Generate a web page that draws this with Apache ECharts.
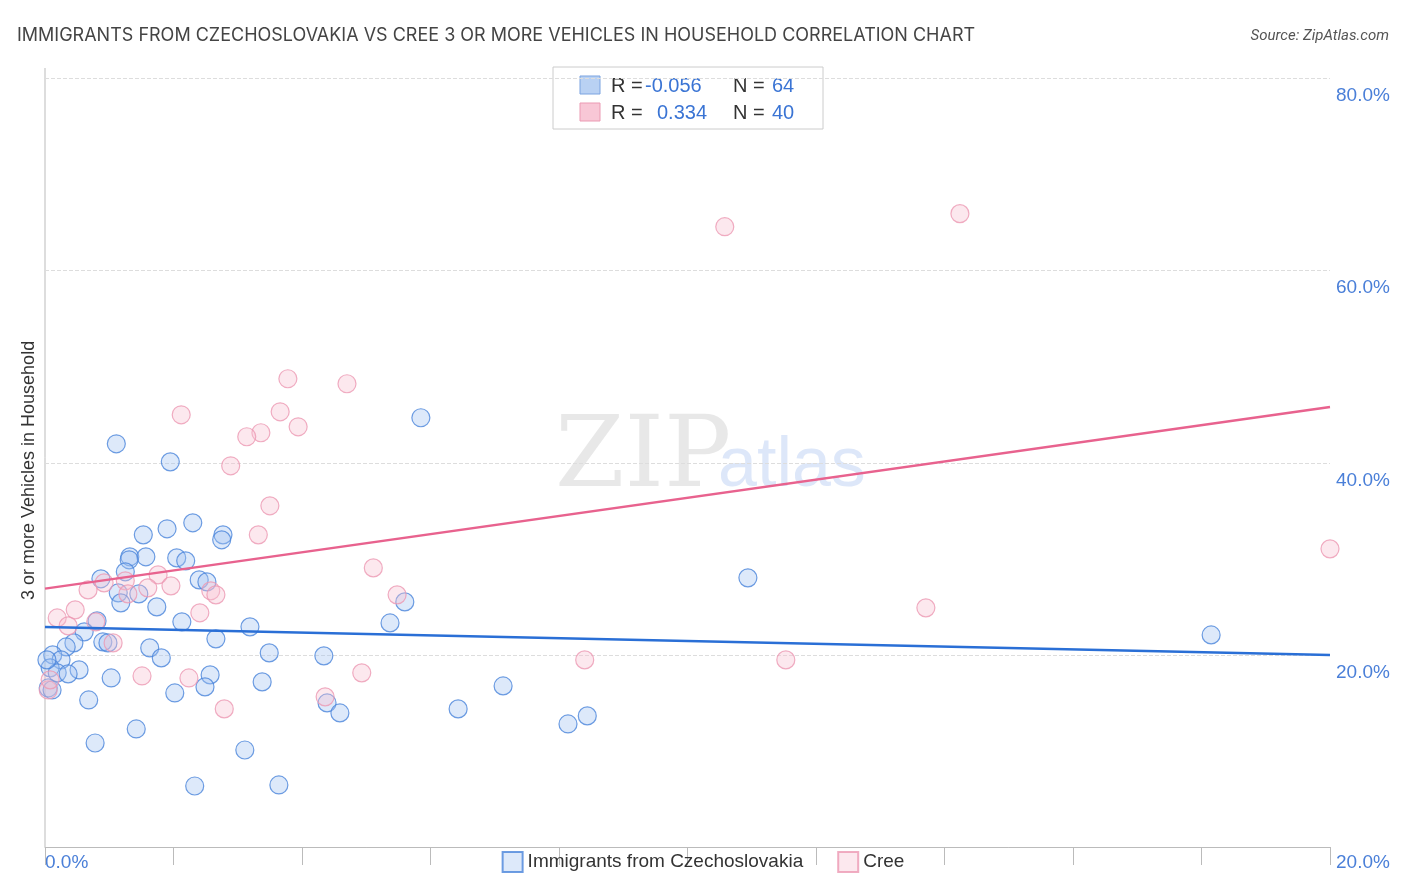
<!DOCTYPE html><html><head><meta charset="utf-8"><script src="https://cdn.jsdelivr.net/npm/echarts@6/dist/echarts.min.js"></script>
<style>body{margin:0}#c{width:1406px;height:892px}</style></head><body><div id="c"></div><script>
const bluePx=[[116,444],[170,462],[421,418],[193,523],[167,529],[143,535],[223,535],[222,540],[130,557],[146,557],[129,560],[177,558],[186,561],[125,572],[101,579],[199,580],[207,582],[118,593],[139,594],[121,603],[157,607],[405,602],[748,578],[97,621],[182,622],[84,632],[250,627],[390,623],[1211,635],[74,643],[103,642],[108,643],[150,648],[216,639],[66,647],[53,655],[61,660],[161,658],[269,653],[324,656],[50,668],[79,670],[57,673],[68,674],[210,675],[111,678],[262,682],[205,687],[175,693],[503,686],[89,700],[327,703],[340,713],[458,709],[587,716],[568,724],[136,729],[95,743],[245,750],[195,786],[279,785],[48,688],[52,690],[47,660]];
const pinkPx=[[725,227],[960,214],[288,379],[347,384],[181,415],[280,412],[298,427],[261,433],[247,437],[231,466],[270,506],[258,535],[373,568],[1330,549],[158,575],[104,583],[125,581],[88,590],[148,588],[171,586],[211,591],[216,595],[200,613],[397,595],[926,608],[75,610],[57,618],[68,626],[113,643],[585,660],[786,660],[362,673],[142,676],[189,678],[325,697],[224,709],[48,690],[50,680],[96,622],[128,594]];
// values (converted from reading positions to data units)
const toV=p=>[+((p[0]-45)/64.25).toFixed(2),+((847-p[1])/9.6).toFixed(2)];
const blueData=bluePx.map(toV), pinkData=pinkPx.map(toV);
const blueTrend=[[0,22.9],[20,20.0]], pinkTrend=[[0,26.9],[20,45.8]];
const yTicks=[20,40,60,80];
const c=echarts.init(document.getElementById('c'));
c.setOption({
 title:[{text:'IMMIGRANTS FROM CZECHOSLOVAKIA VS CREE 3 OR MORE VEHICLES IN HOUSEHOLD CORRELATION CHART',left:12,top:22,textStyle:{fontSize:18,fontWeight:'normal',color:'#444',fontFamily:'Inter'}},
 {text:'Source: ZipAtlas.com',right:12,top:24,textStyle:{fontSize:15,fontWeight:'normal',fontStyle:'italic',color:'#555',fontFamily:'Roboto'}}],
 grid:{left:45,right:76,top:69,bottom:45},
 xAxis:{type:'value',min:0,max:20,interval:2,axisLine:{lineStyle:{color:'#bbb'}},axisTick:{show:true,length:18,inside:false,lineStyle:{color:'#bbb'}},splitLine:{show:false},
  axisLabel:{show:false}},
 yAxis:{type:'value',min:0,max:81,position:'right',interval:20,axisLine:{show:false},axisTick:{show:false},
  splitLine:{showMaxLine:false,showMinLine:false,lineStyle:{type:'dashed',color:'#ddd'}},axisLabel:{fontSize:19,color:'#4a7fd8',formatter:v=>yTicks.includes(v)?v.toFixed(1)+'%':'',margin:6,verticalAlign:'top',padding:[8,0,0,0]}},
 legend:{bottom:14,left:'center',itemWidth:20,itemHeight:20,itemGap:34,textStyle:{fontSize:19,color:'#333'},data:[{name:'Immigrants from Czechoslovakia',icon:'rect'},{name:'Cree',icon:'rect'}]},
 graphic:[{type:'line',shape:{x1:45,y1:68,x2:45,y2:847},style:{stroke:'#bbb'}},
  {type:'text',x:45,y:853,style:{text:'0.0%',fontSize:19,fill:'#4a7fd8'}},
  {type:'text',x:1336,y:853,style:{text:'20.0%',fontSize:19,fill:'#4a7fd8'}},
  {type:'rect',shape:{x:553,y:67,width:270,height:62},style:{fill:'#fff',stroke:'#ccc'}},
  {type:'rect',shape:{x:580,y:76,width:20,height:18},style:{fill:'#b9d1f3',stroke:'#7aa3e0'}},
  {type:'rect',shape:{x:580,y:103,width:20,height:18},style:{fill:'#f8c7d6',stroke:'#eb9ab3'}},
  {type:'text',x:611,y:76,style:{text:'R = ',fontSize:20,fill:'#333'}},
  {type:'text',x:645,y:76,style:{text:'-0.056',fontSize:20,fill:'#3a74d4'}},
  {type:'text',x:733,y:76,style:{text:'N = ',fontSize:20,fill:'#333'}},
  {type:'text',x:772,y:76,style:{text:'64',fontSize:20,fill:'#3a74d4'}},
  {type:'text',x:611,y:103,style:{text:'R = ',fontSize:20,fill:'#333'}},
  {type:'text',x:657,y:103,style:{text:'0.334',fontSize:20,fill:'#3a74d4'}},
  {type:'text',x:733,y:103,style:{text:'N = ',fontSize:20,fill:'#333'}},
  {type:'text',x:772,y:103,style:{text:'40',fontSize:20,fill:'#3a74d4'}},
  {type:'text',x:555,y:410,style:{text:'ZIP',fontSize:100,fill:'rgba(180,180,180,0.3)',fontFamily:'DejaVu Serif'}},
  {type:'text',x:718,y:432,style:{text:'atlas',fontSize:70,fill:'rgba(120,160,230,0.25)'}},
  {type:'text',x:20,y:600,rotation:Math.PI/2,style:{text:'3 or more Vehicles in Household',fontSize:18,fill:'#333'}}],
 series:[
  {name:'Immigrants from Czechoslovakia',type:'scatter',data:blueData,symbolSize:18,itemStyle:{color:'rgba(160,195,240,0.45)',borderColor:'#4a85db',borderWidth:1.2},z:3},
  {name:'Cree',type:'scatter',data:pinkData,symbolSize:18,itemStyle:{color:'rgba(248,190,208,0.45)',borderColor:'#ec98b3',borderWidth:1.2},z:3},
  {type:'line',data:blueTrend,symbol:'none',lineStyle:{color:'#2a6fd6',width:2.5},z:4,silent:true},
  {type:'line',data:pinkTrend,symbol:'none',lineStyle:{color:'#e8628e',width:2.5},z:4,silent:true}
 ]});
</script></body></html>
